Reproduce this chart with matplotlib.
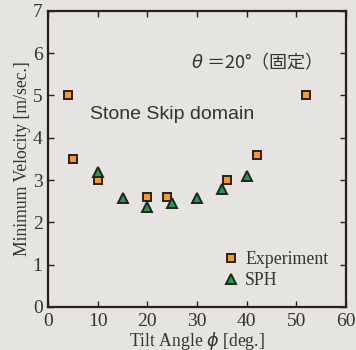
import matplotlib.pyplot as plt

# Experiment data
exp_angle = [4, 5, 10, 20, 24, 36, 42, 52]
exp_vel = [5.0, 3.5, 3.0, 2.6, 2.6, 3.0, 3.6, 5.0]

# SPH data
sph_angle = [10, 15, 20, 25, 30, 35, 40]
sph_vel = [3.2, 2.57, 2.36, 2.46, 2.57, 2.78, 3.1]

bg = '#e6e4e0'
dark = '#2a1f1f'

fig = plt.figure(figsize=(3.56, 3.5), dpi=100, facecolor=bg)
ax = fig.add_axes([0.135, 0.123, 0.837, 0.846], facecolor=bg)

ax.plot(exp_angle, exp_vel, 's', color='#f39a28', markeredgecolor=dark,
        markeredgewidth=1.4, markersize=6, label='Experiment', zorder=3)
ax.plot(sph_angle, sph_vel, '^', color='#16a04a', markeredgecolor=dark,
        markeredgewidth=1.4, markersize=6.5, label='SPH', zorder=3)

ax.set_xlim(0, 60)
ax.set_ylim(0, 7)
ax.set_xticks(range(0, 61, 10))
ax.set_yticks(range(0, 8))

serif = ['Liberation Serif', 'DejaVu Serif']
for lbl in ax.get_xticklabels() + ax.get_yticklabels():
    lbl.set_family(serif)
    lbl.set_fontsize(14)
    lbl.set_color('#333333')

ax.tick_params(direction='in', top=True, right=True, length=4, width=1,
               color=dark, pad=4)
for s in ax.spines.values():
    s.set_color(dark)
    s.set_linewidth(1.6)

ax.set_xlabel(r'Tilt Angle $\phi$ [deg.]', family=serif, fontsize=12.7,
              color='#333333', labelpad=0)
ax.set_ylabel('Minimum Velocity [m/sec.]', family=serif, fontsize=12.7,
              color='#333333', labelpad=1)

ax.text(8.5, 4.55, 'Stone Skip domain', family=['Liberation Sans', 'DejaVu Sans'],
        fontsize=14, color='#333333', va='center')
ax.text(28.7, 5.8, '$\\theta$ ＝20°（固定）',
        family=['Noto Sans CJK JP', 'DejaVu Sans'], fontsize=13,
        color='#333333', va='center')

leg = ax.legend(loc='lower right', bbox_to_anchor=(0.995, 0.005), frameon=False,
                prop={'family': serif, 'size': 12.8}, handletextpad=0.3,
                labelspacing=0.25, handlelength=1.0)
for t in leg.get_texts():
    t.set_color('#333333')

fig.savefig('out.png', dpi=100, facecolor=bg)
